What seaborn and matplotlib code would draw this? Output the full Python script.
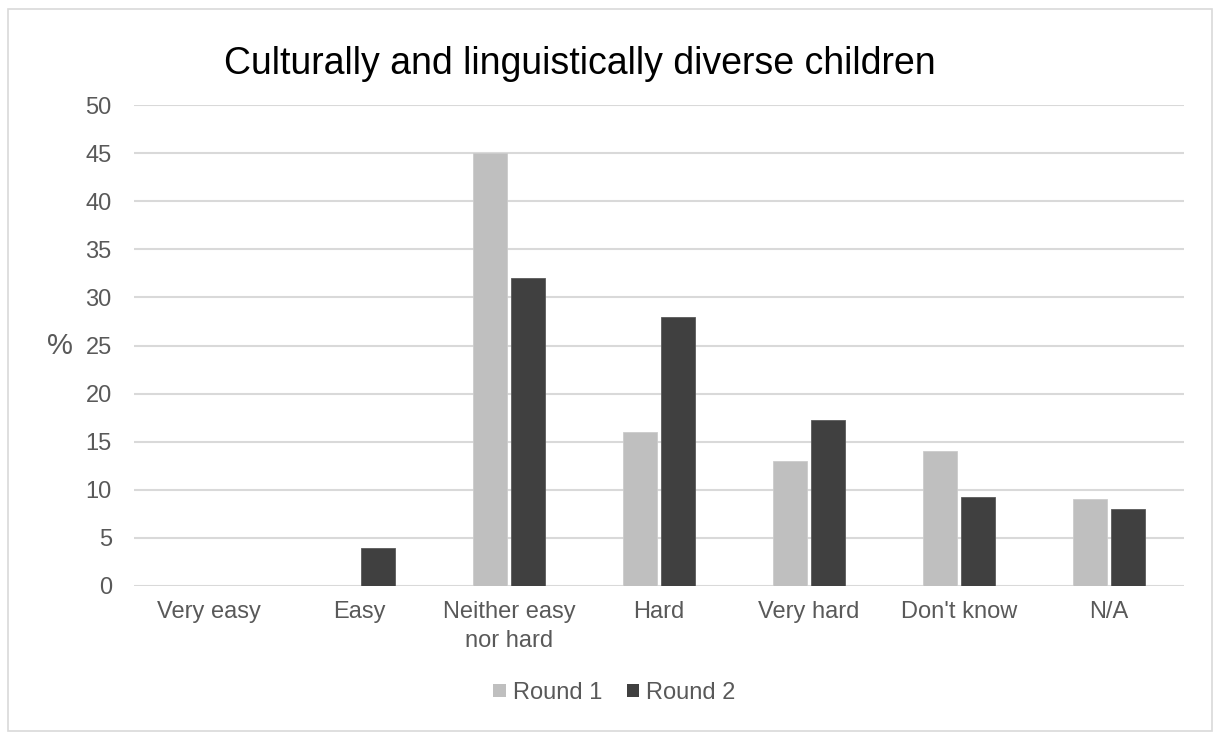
import matplotlib
matplotlib.use("Agg")
import matplotlib.pyplot as plt
from matplotlib.patches import Rectangle, Patch
import seaborn as sns
import pandas as pd

categories = ["Very easy", "Easy", "Neither easy\nnor hard", "Hard", "Very hard", "Don't know", "N/A"]
round1 = [0, 0, 45, 16, 13, 14, 9]
round2 = [0, 4, 32, 28, 17.3, 9.3, 8]
series = ["Round 1", "Round 2"]
colors = {"Round 1": "#BFBFBF", "Round 2": "#404040"}
yticks = [0, 5, 10, 15, 20, 25, 30, 35, 40, 45, 50]

df = pd.DataFrame({
    "category": categories * 2,
    "value": round1 + round2,
    "series": [series[0]] * len(categories) + [series[1]] * len(categories),
})

sns.set_theme(style="white")
plt.rcParams["font.family"] = ["Liberation Sans", "DejaVu Sans"]

W, H = 1213, 734
fig = plt.figure(figsize=(W / 100, H / 100), dpi=100)
ax = fig.add_axes([134 / W, 1 - 586 / H, 1050 / W, 481 / H])

# outer chart frame
fig.patches.append(Rectangle((8 / W, 1 - 731 / H), 1203.5 / W, 722 / H,
                             transform=fig.transFigure, fill=False,
                             edgecolor="#D9D9D9", linewidth=1.2, zorder=0))

sns.barplot(data=df, x="category", y="value", hue="series", order=categories,
            hue_order=series, palette=colors, width=0.51, gap=0.12,
            ax=ax, legend=False, saturation=1, zorder=3)
for p in ax.patches:
    p.set_edgecolor("#CCCCCC" if p.get_facecolor()[0] > 0.5 else "#5a5a5a")
    p.set_linewidth(0.6)

ax.set_ylim(0, 50)
ax.set_xlim(-0.5, len(categories) - 0.5)
ax.set_yticks(yticks)
ax.set_yticklabels([str(t) for t in yticks])
ax.yaxis.grid(True, color="#D9D9D9", linewidth=1.5, zorder=0)
ax.set_axisbelow(True)
for s in ax.spines.values():
    s.set_visible(False)
ax.tick_params(axis="y", length=0, pad=16, labelsize=17, labelcolor="#595959")
ax.tick_params(axis="x", length=0, pad=11, labelsize=17, labelcolor="#595959")
for lbl in ax.get_xticklabels():
    lbl.set_linespacing(1.4)
ax.set_xlabel("")
ax.set_ylabel("%", rotation=0, fontsize=21, color="#595959", va="center", ha="center")
ax.yaxis.set_label_coords(-0.0705, 0.5)

fig.text(580 / W, 1 - 74 / H, "Culturally and linguistically diverse children",
         ha="center", va="baseline", fontsize=27, color="#000000")

handles = [Patch(facecolor=colors[s], edgecolor="none", label=s) for s in series]
leg = fig.legend(handles=handles, loc="center", bbox_to_anchor=(614.5 / W, 1 - 693 / H),
                 ncol=2, frameon=False, fontsize=17, handlelength=0.51,
                 handleheight=0.51, handletextpad=0.3, columnspacing=1.06,
                 borderpad=0, borderaxespad=0)
for t in leg.get_texts():
    t.set_color("#595959")

fig.savefig("out.png", dpi=100)
